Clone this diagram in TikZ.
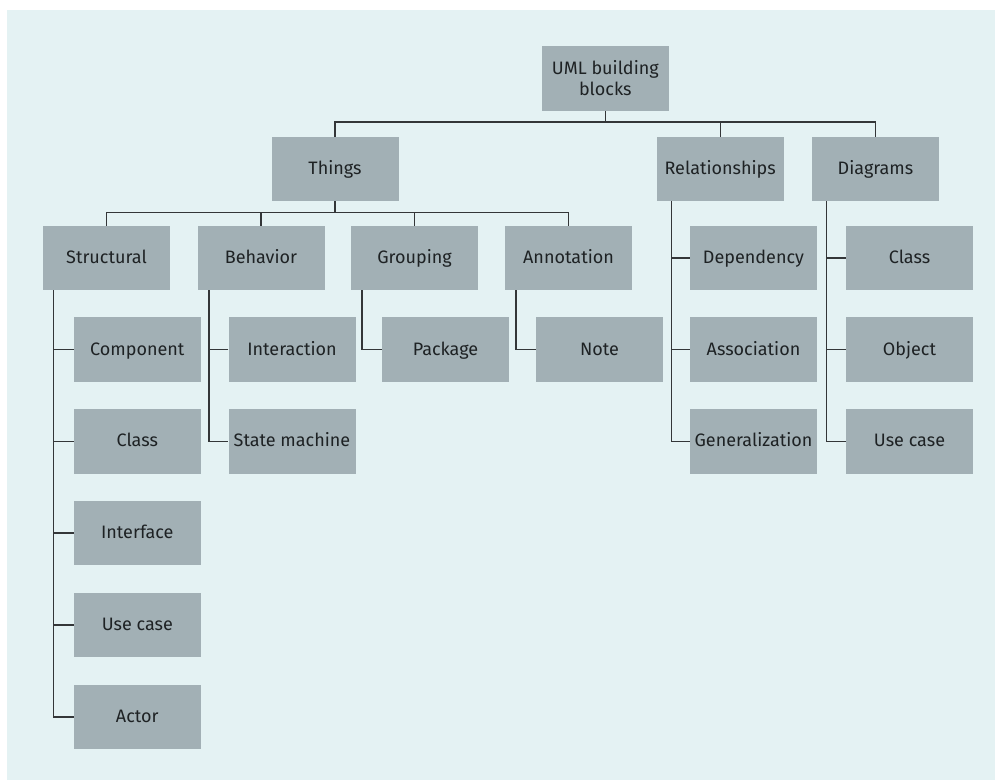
\documentclass[tikz,border=0pt]{standalone}
\usepackage{fontspec}
\setmainfont{Fira Sans}
\definecolor{panel}{HTML}{E4F2F3}
\definecolor{blockfill}{HTML}{A2B0B5}
\definecolor{wire}{HTML}{333638}
\definecolor{ink}{HTML}{1E2224}
\begin{document}
\begin{tikzpicture}[x=1pt,y=-1pt,
  blockbase/.style={fill=blockfill,draw=none,minimum width=127pt,minimum height=64.5pt,
    inner sep=0pt,text=ink,font=\fontsize{18}{21}\selectfont,align=center},
  blk/.style={blockbase,text height=14pt,text depth=3pt},
  wirestyle/.style={draw=wire,line width=1.4pt}]
  % canvas and panel
  \useasboundingbox (0,0) rectangle (995,780);
  \fill[white] (0,0) rectangle (995,780);
  \fill[panel] (7,10) rectangle (995,780);

  % root and first level
  \node[blockbase,minimum width=126.5pt,minimum height=65pt] (root) at (605.3,78.2) {UML building\\blocks};
  \node[blk] (things) at (335,169) {Things};
  \node[blk] (rel) at (720.2,169) {Relationships};
  \node[blk] (diag) at (875.5,169) {Diagrams};

  % kinds of things
  \node[blk] (struct) at (106.5,258) {Structural};
  \node[blk] (behav) at (261,258) {Behavior};
  \node[blk] (group) at (414.5,258) {Grouping};
  \node[blk] (annot) at (568.5,258) {Annotation};

  % structural things
  \node[blk] (comp) at (137.3,349.5) {Component};
  \node[blk] (sclass) at (137.3,441.3) {Class};
  \node[blk] (iface) at (137.3,533.1) {Interface};
  \node[blk] (suse) at (137.3,624.9) {Use case};
  \node[blk] (actor) at (137.3,716.8) {Actor};

  % behavioral, grouping and annotation things
  \node[blk] (inter) at (292,349.5) {Interaction};
  \node[blk] (state) at (292,441.3) {State machine};
  \node[blk] (pkg) at (445.5,349.5) {Package};
  \node[blk] (note) at (599.5,349.5) {Note};

  % relationships
  \node[blk] (dep) at (753.5,258) {Dependency};
  \node[blk] (assoc) at (753.5,349.5) {Association};
  \node[blk] (gen) at (753.5,441.3) {Generalization};

  % diagrams
  \node[blk] (dclass) at (909.5,258) {Class};
  \node[blk] (dobj) at (909.5,349.5) {Object};
  \node[blk] (duse) at (909.5,441.3) {Use case};

  % top-level bus
  \coordinate (busA) at (605.3,122);
  \draw[wirestyle] (root.south) -- (busA);
  \draw[wirestyle] (things.north) |- (busA) -| (diag.north);
  \draw[wirestyle] (rel.north) -- (rel.north |- busA);

  % bus under Things
  \coordinate (busB) at (335,212.3);
  \draw[wirestyle] (things.south) -- (busB);
  \draw[wirestyle] (struct.north) |- (busB) -| (annot.north);
  \draw[wirestyle] (behav.north) -- (behav.north |- busB);
  \draw[wirestyle] (group.north) -- (group.north |- busB);

  % spines with side branches
  \coordinate (spS) at (53.3,0);
  \draw[wirestyle] (struct.south -| spS) |- (actor.west);
  \foreach \n in {comp,sclass,iface,suse}
    \draw[wirestyle] (\n.west) -- (\n.west -| spS);

  \coordinate (spB) at (209,0);
  \draw[wirestyle] (behav.south -| spB) |- (state.west);
  \draw[wirestyle] (inter.west) -- (inter.west -| spB);

  \coordinate (spG) at (362,0);
  \draw[wirestyle] (group.south -| spG) |- (pkg.west);

  \coordinate (spA) at (516,0);
  \draw[wirestyle] (annot.south -| spA) |- (note.west);

  \coordinate (spR) at (671.5,0);
  \draw[wirestyle] (rel.south -| spR) |- (gen.west);
  \foreach \n in {dep,assoc}
    \draw[wirestyle] (\n.west) -- (\n.west -| spR);

  \coordinate (spD) at (826.7,0);
  \draw[wirestyle] (diag.south -| spD) |- (duse.west);
  \foreach \n in {dclass,dobj}
    \draw[wirestyle] (\n.west) -- (\n.west -| spD);
\end{tikzpicture}
\end{document}
